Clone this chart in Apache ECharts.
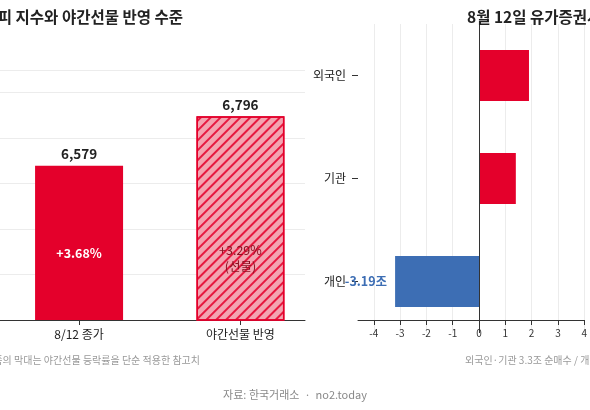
<!DOCTYPE html>
<html><head><meta charset="utf-8">
<script src="https://cdn.jsdelivr.net/npm/echarts@6/dist/echarts.min.js"></script>
<style>html,body{margin:0;padding:0;background:#fff}#c{width:590px;height:410px}</style>
</head><body><div id="c"></div>
<script>
const indexCats = ['8/12 종가', '야간선물 반영'];
const indexVals = [6579, 6796];
const indexPct = ['+3.68%', '+3.29%\n(선물)'];
const flowCats = ['개인', '기관', '외국인'];
const flowVals = [-3.19, 1.4, 1.9];
const flowTicks = [-4, -3, -2, -1, 0, 1, 2, 3, 4];

const F = '"Noto Sans CJK KR","Noto Sans",sans-serif';
const chart = echarts.init(document.getElementById('c'));
chart.setOption({
  animation: false,
  textStyle: {fontFamily: F},
  title: [
    {text: '코스피 지수와 야간선물 반영 수준', right: 402, top: 4, textStyle: {fontSize: 15.5, fontWeight: 'bold', color: '#222', fontFamily: F}},
    {text: '8월 12일 유가증권시장 투자자별 순매수(조원)', left: 462, top: 4, textStyle: {fontSize: 15.5, fontWeight: 'bold', color: '#222', fontFamily: F}}
  ],
  graphic: [
    {type: 'text', right: 390, top: 355, style: {text: '※ 오른쪽의 막대는 야간선물 등락률을 단순 적용한 참고치', fill: '#999', font: '10px ' + F}},
    {type: 'text', left: 465, top: 355, style: {text: '외국인·기관 3.3조 순매수 / 개인 3.19조 순매도', fill: '#999', font: '10px ' + F}},
    {type: 'text', left: 'center', top: 389, style: {text: '자료: 한국거래소  ·  no2.today', fill: '#888', font: '11px ' + F}}
  ],
  grid: [
    {left: -1.5, top: 70, width: 306.5, height: 250},
    {left: 358, top: 24, width: 395.6, height: 309}
  ],
  xAxis: [
    {gridIndex: 0, type: 'value', min: -0.49, max: 1.4, splitLine: {show: false},
     axisLine: {lineStyle: {color: '#333'}},
     axisTick: {show: true, customValues: [0, 1], length: 5, lineStyle: {color: '#333'}},
     axisLabel: {customValues: [0, 1], formatter: v => indexCats[Math.round(v)], color: '#222', fontSize: 12, margin: 8}},
    {gridIndex: 1, type: 'value', min: -4.6, max: 4, offset: -13,
     splitLine: {show: true, lineStyle: {color: '#ececec'}},
     axisLine: {show: true, onZero: false, lineStyle: {color: '#333'}},
     axisTick: {show: true, customValues: flowTicks, length: 5, lineStyle: {color: '#333'}},
     axisLabel: {customValues: flowTicks, color: '#333', fontSize: 10, margin: 8}}
  ],
  yAxis: [
    {gridIndex: 0, type: 'value', min: 5900, max: 7000, interval: 200, axisLabel: {show: false},
     axisLine: {show: false}, axisTick: {show: false},
     splitLine: {lineStyle: {color: '#ececec'}}},
    {gridIndex: 1, type: 'category', data: flowCats,
     axisLine: {show: false, onZero: false},
     axisTick: {show: true, alignWithLabel: true, length: 6, lineStyle: {color: '#333'}},
     axisLabel: {color: '#222', fontSize: 12, margin: 12},
     splitLine: {show: false}}
  ],
  series: [
    {type: 'bar', xAxisIndex: 0, yAxisIndex: 0, barWidth: 88,
     data: indexVals.map((v, i) => ({
       value: [i, v],
       itemStyle: i === 0 ? {color: '#e4002b'} : {color: '#f3a4b1', borderColor: '#e4002b', borderWidth: 1.5,
         decal: {symbol: 'rect', color: 'rgba(228,0,43,0.85)', dashArrayX: [1, 0], dashArrayY: [1.5, 5], rotation: -Math.PI / 4}},
       label: {show: true, position: 'inside', offset: [0, i === 0 ? 10 : 40], formatter: indexPct[i],
         color: i === 0 ? '#fff' : '#8a1020', fontSize: 12.5, fontWeight: i === 0 ? 'bold' : 'normal', lineHeight: 16}
     }))},
    {type: 'bar', xAxisIndex: 0, yAxisIndex: 0, barWidth: 88, barGap: '-100%', silent: true,
     itemStyle: {color: 'transparent'},
     label: {show: true, position: 'top', distance: 5, color: '#222', fontSize: 13.5, fontWeight: 'bold',
       formatter: p => p.value[1].toLocaleString('en-US')},
     data: indexVals.map((v, i) => [i, v])},
    {type: 'bar', xAxisIndex: 1, yAxisIndex: 1, barWidth: 51,
     data: flowVals.map(v => ({value: v, itemStyle: {color: v < 0 ? '#3d6eb4' : '#e4002b'},
       label: {show: v < 0, position: 'left', distance: 8, color: '#3d6eb4', fontWeight: 'bold', fontSize: 12.5,
         formatter: p => p.value.toFixed(2) + '조'}})),
     markLine: {symbol: 'none', silent: true, label: {show: false}, lineStyle: {color: '#333', type: 'solid', width: 1},
       data: [{xAxis: 0}]}}
  ]
});
</script></body></html>
